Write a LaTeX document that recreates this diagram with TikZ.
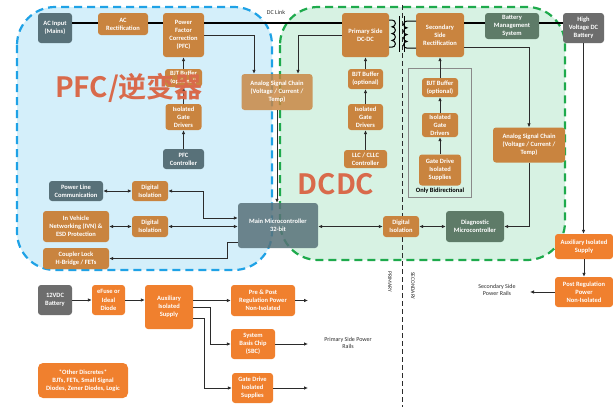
\documentclass[tikz,border=0pt]{standalone}
\usepackage{fontspec}
\setmainfont{Carlito}
\IfFontExistsTF{Noto Sans CJK SC Bold}
    {\newfontfamily\cjk{Noto Sans CJK SC Bold}}
    {\newfontfamily\cjk{Noto Sans CJK SC}}
\usepackage{tikz}
\usetikzlibrary{calc,arrows.meta}
\definecolor{ev-brown}{HTML}{C9843F}
\definecolor{ev-orange}{HTML}{F0802E}
\definecolor{ev-slate}{HTML}{587179}
\definecolor{ev-green}{HTML}{5E7B68}
\definecolor{ev-gray}{HTML}{6D6D6D}
\definecolor{ev-blue}{HTML}{1FA2E6}
\definecolor{ev-bluefill}{HTML}{D4EFFA}
\definecolor{ev-lime}{HTML}{1EAA4C}
\definecolor{ev-limefill}{HTML}{D7F2E3}
\definecolor{ev-red}{HTML}{D96A4B}
\definecolor{ev-text}{HTML}{2B2B2B}

\begin{document}
\begin{tikzpicture}[x=1pt, y=-1pt,
    blk/.style={rounded corners=3pt, inner sep=1pt, align=center, text=white,
        font=\bfseries\fontsize{6.5}{8.2}\selectfont},
    sz/.style 2 args={minimum width=#1pt, minimum height=#2pt},
    brownbox/.style={blk, fill=ev-brown},
    orangebox/.style={blk, fill=ev-orange},
    slatebox/.style={blk, fill=ev-slate},
    greenbox/.style={blk, fill=ev-green},
    graybox/.style={blk, fill=ev-gray},
    lbl/.style={align=center, text=ev-text, inner sep=0pt, font=\fontsize{6}{7.2}\selectfont},
    bigtxt/.style={inner sep=0pt, text=ev-red, font=\cjk\fontsize{28}{30}\selectfont},
    region/.style={line width=2.2pt, dash pattern=on 8pt off 5pt, rounded corners=38pt},
    arr/.style={-{Latex[length=4pt,width=3.6pt]}, line width=0.9pt, ev-text},
    biarr/.style={{Latex[length=4pt,width=3.6pt]}-{Latex[length=4pt,width=3.6pt]}, line width=0.9pt, ev-text},
    dclinkline/.style={line width=2pt}]

    \useasboundingbox (0,0) rectangle (613,407);
    \fill[white] (0,0) rectangle (613,407);

    % PFC side and DC-DC side
    \draw[region, ev-blue, fill=ev-bluefill] (17,7) rectangle (272,270);
    \draw[region, ev-lime, fill=ev-limefill] (280,7) rectangle (565,260);

    % primary / secondary split
    \draw[ev-text, line width=0.7pt, dash pattern=on 5pt off 3pt] (402,5) -- (402,407);
    \node[lbl, rotate=-90, font=\fontsize{5.5}{6}\selectfont] (prilbl) at (390,282) {PRIMARY};
    \node[lbl, rotate=-90, font=\fontsize{5.5}{6}\selectfont] (seclbl) at (413,286) {SECONDARY};

    % bidirectional group
    \draw[ev-gray!80, line width=0.8pt] (408,68) rectangle (471,197);
    \node[font=\bfseries\fontsize{6.5}{7}\selectfont, inner sep=0pt] (bidir) at (440,191) {Only Bidirectional};

    % AC input to DC link
    \coordinate (dclink) at (0,23);
    \node[slatebox, sz={34}{30}] (acin) at (55,28) {AC Input\\(Mains)};
    \node[brownbox, sz={50}{22}] (acrect) at (123,24) {AC\\Rectification};
    \node[brownbox, sz={41}{44}] (pfc) at (183.5,35) {Power\\Factor\\Correction\\(PFC)};
    \node[brownbox, sz={37}{18}] (bjtpfc) at (183.5,78) {BJT Buffer\\(optional)};
    \node[brownbox, sz={36}{26}] (gatepfc) at (183.5,117) {Isolated\\Gate\\Drivers};
    \node[slatebox, sz={41}{20}] (pfcctrl) at (183.5,159) {PFC\\Controller};
    \node[brownbox, sz={71}{36}, fill opacity=.82, text opacity=1] (sigpri) at (277,92) {Analog Signal Chain\\(Voltage / Current /\\Temp)};
    \node[lbl] (dclbl) at (276,12) {DC Link};

    % primary DC-DC
    \node[brownbox, sz={47}{44}] (dcp) at (365.5,35) {Primary Side\\DC-DC};
    \node[brownbox, sz={35}{20}] (bjtmid) at (365.5,79) {BJT Buffer\\(optional)};
    \node[brownbox, sz={35}{26}] (gatemid) at (365.5,117) {Isolated\\Gate\\Drivers};
    \node[brownbox, sz={43}{18}] (llc) at (365.5,159) {LLC / CLLC\\Controller};

    % secondary DC-DC
    \node[brownbox, sz={48}{44}] (secrect) at (440,35) {Secondary\\Side\\Rectification};
    \node[brownbox, sz={36}{19}] (bjtsec) at (440,87.5) {BJT Buffer\\(optional)};
    \node[brownbox, sz={36}{24}] (gatesec) at (440,125) {Isolated\\Gate\\Drivers};
    \node[brownbox, sz={42}{31}] (supsec) at (440,170) {Gate Drive\\Isolated\\Supplies};
    \node[greenbox, sz={54}{26}] (bms) at (512,26) {Battery\\Management\\System};
    \node[graybox, sz={41}{30}] (hvbat) at (583.5,28) {High\\Voltage DC\\Battery};
    \node[brownbox, sz={72}{35}] (sigsec) at (529,145) {Analog Signal Chain\\(Voltage / Current /\\Temp)};

    % control and communication
    \node[slatebox, sz={80}{45}, fill opacity=.85, text opacity=1] (mcu) at (278,225.5) {Main Microcontroller\\32-bit};
    \node[brownbox, sz={36}{21}] (digisosec) at (401,226.5) {Digital\\Isolation};
    \node[greenbox, sz={58}{31}] (diag) at (475,226.5) {Diagnostic\\Microcontroller};
    \node[slatebox, sz={54}{20}] (plc) at (76,191) {Power Line\\Communication};
    \node[brownbox, sz={36}{20}] (digiso1) at (150,191) {Digital\\Isolation};
    \node[brownbox, sz={66}{31}] (ivn) at (76,226.5) {In Vehicle\\Networking (IVN) \&\\ESD Protection};
    \node[brownbox, sz={36}{21}] (digiso2) at (150,226.5) {Digital\\Isolation};
    \node[brownbox, sz={66}{21}] (coupler) at (76,258.5) {Coupler Lock\\H-Bridge / FETs};

    % low voltage supplies
    \node[graybox, sz={34}{30}] (bat12) at (55,300) {12VDC\\Battery};
    \node[orangebox, sz={33}{30}] (efuse) at (108.5,300) {eFuse or\\Ideal\\Diode};
    \node[orangebox, sz={48}{44}] (auxsup) at (169,307) {Auxiliary\\Isolated\\Supply};
    \node[orangebox, sz={64}{31}] (prepost) at (263,300.5) {Pre \& Post\\Regulation Power\\Non-Isolated};
    \node[orangebox, sz={44}{30}] (sbc) at (253,344) {System\\Basis Chip\\(SBC)};
    \node[orangebox, sz={41}{30}] (gdsup) at (252.5,388) {Gate Drive\\Isolated\\Supplies};
    \node[orangebox, sz={90}{35}, rounded corners=5pt] (discr) at (83,380.5) {*Other Discretes*\\BJTs, FETs, Small Signal\\Diodes, Zener Diodes, Logic};
    \node[lbl] (railslbl) at (348,343) {Primary Side Power\\Rails};
    \node[orangebox, sz={58}{25}] (auxsec) at (584,246.5) {Auxiliary Isolated\\Supply};
    \node[orangebox, sz={58}{30}] (postreg) at (584,292) {Post Regulation\\Power\\Non-Isolated};
    \node[lbl] (secrailslbl) at (497,290) {Secondary Side\\Power Rails};

    % DC link
    \draw[dclinkline] (acin.east |- dclink) -- (acrect.west |- dclink);
    \draw[dclinkline] (acrect.east |- dclink) -- (pfc.west |- dclink);
    \draw[dclinkline] (pfc.east |- dclink) -- (dcp.west |- dclink);
    \draw[dclinkline] (secrect.east |- dclink) -- (bms.west |- dclink);
    \draw[dclinkline] (bms.east |- dclink) -- (hvbat.west |- dclink);

    % transformer
    \draw[line width=1pt] (389,20) -- (392,20)
        \foreach \k in {1,...,4} { arc[start angle=90, end angle=-90, radius=3.4pt] } -- (389,47.2);
    \draw[line width=1pt] (416,21) -- (407,21)
        \foreach \k in {1,...,4} { arc[start angle=90, end angle=270, radius=3.4pt] } -- (416,48.2);
    \draw[line width=1pt] (399.5,16) -- (399.5,52) (404.5,16) -- (404.5,52);

    % gate drive chains
    \foreach \a/\b in {pfcctrl/gatepfc, gatepfc/bjtpfc, bjtpfc/pfc, llc/gatemid, gatemid/bjtmid,
        bjtmid/dcp, supsec/gatesec, gatesec/bjtsec, bjtsec/secrect}
        \draw[arr] (\a.north) -- (\b.south);

    % sensing
    \draw[arr] (pfc.east) -| ([xshift=-23pt]sigpri.north);
    \draw[arr] (dcp.west) -| ([xshift=21pt]sigpri.north);
    \draw[arr] (sigpri.south) -- (sigpri.south |- mcu.north);
    \draw[arr] ([yshift=-12pt]secrect.east) -| (sigsec.north);
    \draw[arr] (sigsec.south) |- (diag.east);

    % communication
    \draw[biarr] (mcu.east |- digisosec) -- (digisosec.west);
    \draw[biarr] (digisosec.east) -- (diag.west);
    \draw[biarr] (plc.east) -- (digiso1.west);
    \draw[biarr] (ivn.east) -- (digiso2.west);
    \draw[biarr] (digiso1.east) -| ([xshift=-34pt,yshift=7.5pt]mcu.west) -- ([yshift=7.5pt]mcu.west);
    \draw[biarr] (digiso2.east) -- (digiso2.east -| mcu.west);
    \draw[arr] ([yshift=-16.5pt]mcu.west) -- ++(-10pt,0) |- (coupler.east);

    % supplies
    \coordinate (rails) at (308,344);
    \coordinate (secrails) at (530,292);
    \draw[arr] (bat12.east) -- (efuse.west);
    \draw[arr] (efuse.east) -- (efuse.east -| auxsup.west);
    \draw[arr] (auxsup.east |- prepost) -- (prepost.west);
    \draw[arr] (auxsup.east) -- ++(17pt,0) |- (sbc.west);
    \draw[arr] ([yshift=-11pt]auxsup.east) -- ++(11pt,0) |- (gdsup.west);
    \foreach \n in {prepost, sbc, gdsup}
        \draw[arr] (\n.east) -- (\n.east -| rails);
    \draw[arr] (hvbat.south) -- (hvbat.south |- auxsec.north);
    \draw[arr] (auxsec.south) -- (postreg.north);
    \draw[arr] (postreg.west) -- (secrails);

    % big labels
    \node[bigtxt] (pfcword) at (129,87.5) {PFC/逆变器};
    \node[bigtxt] (dcdcword) at (336,184) {DCDC};
\end{tikzpicture}
\end{document}
